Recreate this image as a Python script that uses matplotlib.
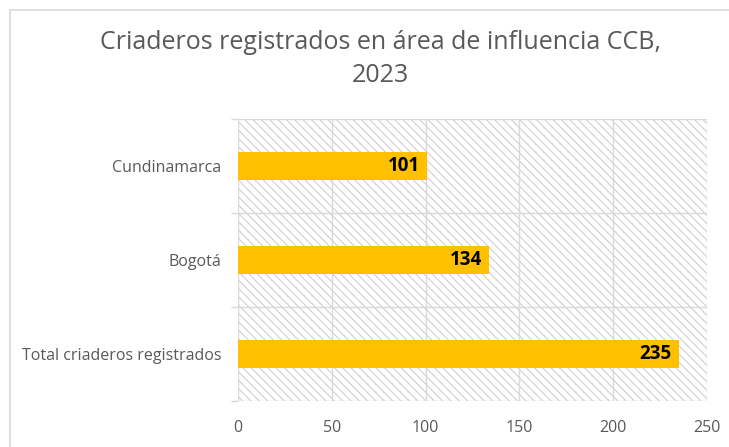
import matplotlib
matplotlib.use("Agg")
import matplotlib.pyplot as plt
from matplotlib.patches import Rectangle

categories = ["Total criaderos registrados", "Bogotá", "Cundinamarca"]
values = [235, 134, 101]
xticks = [0, 50, 100, 150, 200, 250]
title = "Criaderos registrados en área de influencia CCB,\n2023"

plt.rcParams['font.family'] = ['Open Sans', 'DejaVu Sans']
plt.rcParams['hatch.linewidth'] = 0.8
plt.rcParams['hatch.color'] = '#d0d0d0'

fig = plt.figure(figsize=(7.29, 4.47), dpi=100)
fig.patches.append(Rectangle((10/729, -0.1), 1.2, 1 - 10/447 + 0.1, transform=fig.transFigure,
                             fill=False, edgecolor='#d9d9d9', linewidth=1.2, zorder=0))
ax = fig.add_axes([238/729, 1 - 401/447, (707-238)/729, (401-119)/447])

ax.add_patch(Rectangle((0, 0), 1, 1, transform=ax.transAxes, facecolor='white',
                       edgecolor='#d0d0d0', hatch='\\\\\\\\', linewidth=0, zorder=0))

y = range(len(categories))
ax.barh(list(y), values, height=0.29, color='#FFC000', zorder=3)
for yi, v in zip(y, values):
    ax.text(v - 4, yi, str(v), ha='right', va='center', fontsize=13.5, fontweight='bold',
            color='black', zorder=4)

ax.set_xlim(0, 250)
ax.set_ylim(-0.5, len(categories) - 0.5)
ax.set_xticks(xticks)
ax.set_yticks(list(y))
ax.set_yticklabels(categories)
for xv in xticks:
    ax.axvline(xv, color='#d9d9d9', linewidth=1, zorder=1)
for yb in [-0.5, 0.5, 1.5, 2.5]:
    ax.axhline(yb, color='#d9d9d9', linewidth=1, zorder=1)

for s in ['top', 'right', 'bottom', 'left']:
    ax.spines[s].set_visible(False)

ax.tick_params(axis='x', length=0, pad=14, labelsize=11.5, labelcolor='#595959')
ax.tick_params(axis='y', length=0, pad=12, labelsize=11.5, labelcolor='#595959')
ax.set_yticks([-0.5, 0.5, 1.5, 2.5], minor=True)
ax.tick_params(axis='y', which='minor', length=5, color='#d9d9d9', width=1)

fig.text(380/729, 1 - 59/447, title, ha='center', va='center', fontsize=18,
         color='#595959', linespacing=1.45)

fig.savefig("out.png", dpi=100)
